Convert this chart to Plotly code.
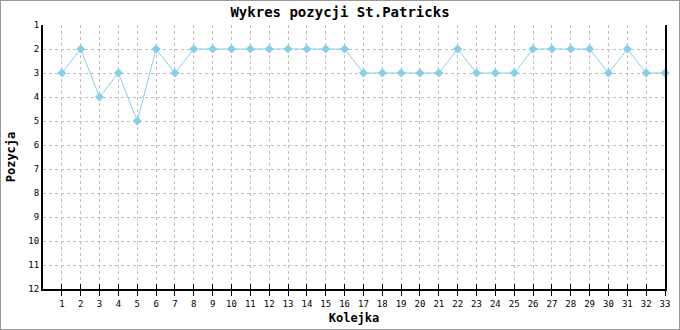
import plotly.graph_objects as go

rounds = list(range(1, 34))
positions = [3, 2, 4, 3, 5, 2, 3, 2, 2, 2, 2, 2, 2, 2, 2, 2, 3, 3, 3, 3, 3, 2, 3, 3, 3, 2, 2, 2, 2, 3, 2, 3, 3]
y_ticks = list(range(1, 13))

fig = go.Figure()
fig.add_trace(go.Scatter(
    x=rounds, y=positions, mode="lines+markers",
    line=dict(color="#87CEEB", width=1),
    marker=dict(symbol="diamond", size=7, color="#87CEEB"),
    cliponaxis=False, showlegend=False,
))
fig.add_trace(go.Scatter(x=rounds, y=positions, xaxis="x2", mode="none",
                         showlegend=False, hoverinfo="skip"))

font_main = "DejaVu Sans Mono"
fig.update_layout(
    width=680, height=330,
    margin=dict(l=43, r=15, t=25, b=41),
    paper_bgcolor="white", plot_bgcolor="white",
    title=dict(text="<b>Wykres pozycji St.Patricks</b>", x=0.5, xanchor="center",
               y=1 - 12 / 330, yanchor="middle",
               font=dict(family=font_main, size=14, color="black")),
    xaxis=dict(range=[0, 33], tickmode="array", tickvals=rounds,
               ticktext=[str(r) for r in rounds], automargin=False,
               showgrid=True, gridcolor="#c0c0c0", griddash="3px,3px", gridwidth=1,
               showline=True, linecolor="black", linewidth=2,
               ticks="outside", ticklen=5, tickcolor="black", tickwidth=1,
               tickfont=dict(family=font_main, size=9, color="black"),
               zeroline=False,
               title=dict(text="<b>Kolejka</b>", standoff=6,
                          font=dict(family=font_main, size=12, color="black"))),
    xaxis2=dict(range=[0, 33], overlaying="x", anchor="y", side="bottom",
                tickmode="array", tickvals=rounds, showticklabels=False,
                ticks="inside", ticklen=5, tickcolor="black", tickwidth=1,
                showgrid=False, showline=False, zeroline=False, automargin=False),
    yaxis=dict(range=[12, 1], tickmode="array", tickvals=y_ticks,
               ticktext=[str(v) for v in y_ticks], automargin=False,
               showgrid=True, gridcolor="#c0c0c0", griddash="3px,3px", gridwidth=1,
               showline=True, linecolor="black", linewidth=2, mirror=True,
               ticks="", tickfont=dict(family=font_main, size=9, color="black"),
               zeroline=False,
               title=dict(text="<b>Pozycja</b>", standoff=10,
                          font=dict(family=font_main, size=12, color="black"))),
    shapes=[dict(type="rect", xref="paper", yref="paper", x0=-43/622, x1=1 + 15/622,
                 y0=-41/264, y1=1 + 25/264, line=dict(color="#999999", width=2),
                 fillcolor="rgba(0,0,0,0)", layer="below")],
)
fig.write_html("out.html")
